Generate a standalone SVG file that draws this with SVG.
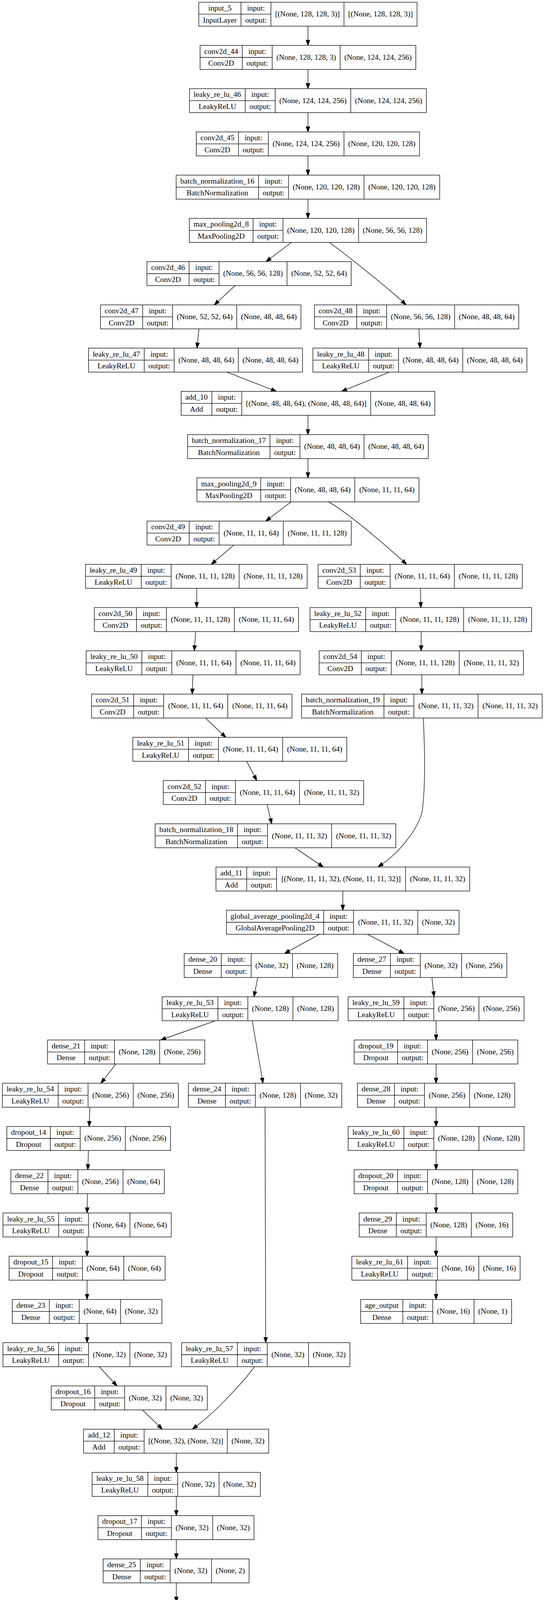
<svg xmlns="http://www.w3.org/2000/svg" width="1393" height="4500" viewBox="0 0 1393 4500">
<style>
.n rect{fill:#fff;stroke:#000;stroke-width:1.33}
.n path{fill:none;stroke:#000;stroke-width:1.33}
.n text{font-family:"Liberation Serif","Times New Roman",serif;font-size:19.5px;text-anchor:middle;fill:#000}
.e path{fill:none;stroke:#000;stroke-width:1.33;marker-end:url(#ah)}
</style>
<defs>
<marker id="ah" viewBox="0 -5 14 10" refX="0" refY="0" markerWidth="14" markerHeight="10" markerUnits="userSpaceOnUse" orient="auto" overflow="visible"><path d="M0,-4.7 L13.3,0 L0,4.7 Z" fill="#000" stroke="#000" stroke-width="1.33"/></marker>
</defs>
<rect width="1393" height="4500" fill="#fff"/>
<g id="edges" class="e">
<path d="M788.5,67 V103"/>
<path d="M788.5,177.7 V213.7"/>
<path d="M788.5,288.4 V324.4"/>
<path d="M788.5,399.1 V435.1"/>
<path d="M788.5,509.8 V545.8"/>
<path d="M746.5,620.5 L691.8,661.8"/>
<path d="M843.3,620.5 C884.1,650.5 986.8,731.35 1030,771.35"/>
<path d="M602,731.2 L558.5,771.5"/>
<path d="M509.4,841.9 L505.8,878"/>
<path d="M1072.7,841.9 L1074.7,877.9"/>
<path d="M581,952.6 L695.5,997.1"/>
<path d="M997,952.6 L887.1,996.9"/>
<path d="M788.5,1063.3 V1099.3"/>
<path d="M788.5,1174 V1210"/>
<path d="M745.4,1284.7 L691.1,1326"/>
<path d="M841.3,1284.7 C890,1312 987.4,1395.8 1031.4,1435.8"/>
<path d="M598.8,1395.4 L551.1,1436.1"/>
<path d="M503.7,1506.1 V1542.1"/>
<path d="M1076.7,1506.1 L1077.4,1542.1"/>
<path d="M501,1616.8 L498.4,1652.8"/>
<path d="M1078.5,1616.8 V1652.8"/>
<path d="M494,1727.5 L492.7,1763.5"/>
<path d="M1080.3,1727.5 V1763.5"/>
<path d="M526,1838.2 L568.7,1878.4"/>
<path d="M631.7,1948.9 L651.3,1986.4"/>
<path d="M684,2059.6 L692.6,2095.9"/>
<path d="M755.2,2170.3 L817,2212.1"/>
<path d="M1083.9,1838.2 C1087,1900 1090,2000 1082,2070 C1077.2,2112 1030,2176 979.1,2211.7"/>
<path d="M877.8,2281 V2317"/>
<path d="M818.2,2391.7 L740.2,2434.6"/>
<path d="M940.8,2391.7 L1023.2,2434.8"/>
<path d="M660,2502.4 L652.9,2538.7"/>
<path d="M1106,2502.4 L1110,2538.5"/>
<path d="M551.7,2613.1 L423.9,2658"/>
<path d="M645.9,2613.1 L671.2,2760"/>
<path d="M1116.7,2613.1 V2649.1"/>
<path d="M296.7,2723.8 L266.6,2762.6"/>
<path d="M1116.7,2723.8 V2759.8"/>
<path d="M230,2834.5 L228.8,2870.5"/>
<path d="M678.7,2834.5 L680.3,3424"/>
<path d="M1116.7,2834.5 V2870.5"/>
<path d="M226.5,2945.2 L225.3,2981.2"/>
<path d="M1116.7,2945.2 V2981.2"/>
<path d="M223.9,3055.9 L223.3,3091.9"/>
<path d="M1116.7,3055.9 V3091.9"/>
<path d="M223,3166.6 V3202.6"/>
<path d="M1116.7,3166.6 V3202.6"/>
<path d="M223,3277.3 V3313.3"/>
<path d="M1116.7,3277.3 V3313.3"/>
<path d="M223,3388 V3424"/>
<path d="M253.8,3498.7 L290.6,3538.3"/>
<path d="M364.8,3609.4 L406.2,3649.5"/>
<path d="M651.8,3498.7 C628,3532 555,3612 503.4,3650.4"/>
<path d="M451.5,3720.1 V3756.1"/>
<path d="M451.5,3830.8 V3866.8"/>
<path d="M451.5,3941.5 V3977.5"/>
<path d="M451.5,4052.2 V4088.2"/>
<path d="M451.5,4162.9 V4198.9"/>
<path d="M451.5,4273.6 V4309.6"/>
<path d="M451.5,4384.3 V4420.3"/>
</g>

<g id="input_5" class="n" transform="translate(509.1,5.6)"><rect width="558.8" height="61.4"/><path d="M108,0V61.4M184.6,0V61.4M371.7,0V61.4M0,30.7H184.6"/><text x="54" y="21.35">input_5</text><text x="54" y="52.05">InputLayer</text><text x="146.3" y="21.35">input:</text><text x="146.3" y="52.05">output:</text><text x="278.15" y="36.7">[(None, 128, 128, 3)]</text><text x="465.25" y="36.7">[(None, 128, 128, 3)]</text></g>

<g id="conv2d_44" class="n" transform="translate(512.4,116.3)"><rect width="552.3" height="61.4"/><path d="M108,0V61.4M184.6,0V61.4M358.7,0V61.4M0,30.7H184.6"/><text x="54" y="21.35">conv2d_44</text><text x="54" y="52.05">Conv2D</text><text x="146.3" y="21.35">input:</text><text x="146.3" y="52.05">output:</text><text x="271.65" y="36.7">(None, 128, 128, 3)</text><text x="455.5" y="36.7">(None, 124, 124, 256)</text></g>

<g id="leaky_re_lu_46" class="n" transform="translate(485.3,227)"><rect width="606.5" height="61.4"/><path d="M142.7,0V61.4M219.3,0V61.4M412.9,0V61.4M0,30.7H219.3"/><text x="71.35" y="21.35">leaky_re_lu_46</text><text x="71.35" y="52.05">LeakyReLU</text><text x="181" y="21.35">input:</text><text x="181" y="52.05">output:</text><text x="316.1" y="36.7">(None, 124, 124, 256)</text><text x="509.7" y="36.7">(None, 124, 124, 256)</text></g>

<g id="conv2d_45" class="n" transform="translate(502.6,337.7)"><rect width="571.8" height="61.4"/><path d="M108,0V61.4M184.6,0V61.4M378.2,0V61.4M0,30.7H184.6"/><text x="54" y="21.35">conv2d_45</text><text x="54" y="52.05">Conv2D</text><text x="146.3" y="21.35">input:</text><text x="146.3" y="52.05">output:</text><text x="281.4" y="36.7">(None, 124, 124, 256)</text><text x="475" y="36.7">(None, 120, 120, 128)</text></g>

<g id="batch_normalization_16" class="n" transform="translate(451.1,448.4)"><rect width="674.8" height="61.4"/><path d="M211,0V61.4M287.6,0V61.4M481.2,0V61.4M0,30.7H287.6"/><text x="105.5" y="21.35">batch_normalization_16</text><text x="105.5" y="52.05">BatchNormalization</text><text x="249.3" y="21.35">input:</text><text x="249.3" y="52.05">output:</text><text x="384.4" y="36.7">(None, 120, 120, 128)</text><text x="578" y="36.7">(None, 120, 120, 128)</text></g>

<g id="max_pooling2d_8" class="n" transform="translate(484.7,559.1)"><rect width="607.6" height="61.4"/><path d="M163.3,0V61.4M239.9,0V61.4M433.5,0V61.4M0,30.7H239.9"/><text x="81.65" y="21.35">max_pooling2d_8</text><text x="81.65" y="52.05">MaxPooling2D</text><text x="201.6" y="21.35">input:</text><text x="201.6" y="52.05">output:</text><text x="336.7" y="36.7">(None, 120, 120, 128)</text><text x="520.55" y="36.7">(None, 56, 56, 128)</text></g>

<g id="conv2d_46" class="n" transform="translate(376.3,669.8)"><rect width="523" height="61.4"/><path d="M108,0V61.4M184.6,0V61.4M358.7,0V61.4M0,30.7H184.6"/><text x="54" y="21.35">conv2d_46</text><text x="54" y="52.05">Conv2D</text><text x="146.3" y="21.35">input:</text><text x="146.3" y="52.05">output:</text><text x="271.65" y="36.7">(None, 56, 56, 128)</text><text x="440.85" y="36.7">(None, 52, 52, 64)</text></g>

<g id="conv2d_47" class="n" transform="translate(257.4,780.5)"><rect width="513.2" height="61.4"/><path d="M108,0V61.4M184.6,0V61.4M348.9,0V61.4M0,30.7H184.6"/><text x="54" y="21.35">conv2d_47</text><text x="54" y="52.05">Conv2D</text><text x="146.3" y="21.35">input:</text><text x="146.3" y="52.05">output:</text><text x="266.75" y="36.7">(None, 52, 52, 64)</text><text x="431.05" y="36.7">(None, 48, 48, 64)</text></g>

<g id="conv2d_48" class="n" transform="translate(805.4,780.5)"><rect width="523" height="61.4"/><path d="M108,0V61.4M184.6,0V61.4M358.7,0V61.4M0,30.7H184.6"/><text x="54" y="21.35">conv2d_48</text><text x="54" y="52.05">Conv2D</text><text x="146.3" y="21.35">input:</text><text x="146.3" y="52.05">output:</text><text x="271.65" y="36.7">(None, 56, 56, 128)</text><text x="440.85" y="36.7">(None, 48, 48, 64)</text></g>

<g id="leaky_re_lu_47" class="n" transform="translate(226.7,891.2)"><rect width="547.9" height="61.4"/><path d="M142.7,0V61.4M219.3,0V61.4M383.6,0V61.4M0,30.7H219.3"/><text x="71.35" y="21.35">leaky_re_lu_47</text><text x="71.35" y="52.05">LeakyReLU</text><text x="181" y="21.35">input:</text><text x="181" y="52.05">output:</text><text x="301.45" y="36.7">(None, 48, 48, 64)</text><text x="465.75" y="36.7">(None, 48, 48, 64)</text></g>

<g id="leaky_re_lu_48" class="n" transform="translate(801.3,891.2)"><rect width="547.9" height="61.4"/><path d="M142.7,0V61.4M219.3,0V61.4M383.6,0V61.4M0,30.7H219.3"/><text x="71.35" y="21.35">leaky_re_lu_48</text><text x="71.35" y="52.05">LeakyReLU</text><text x="181" y="21.35">input:</text><text x="181" y="52.05">output:</text><text x="301.45" y="36.7">(None, 48, 48, 64)</text><text x="465.75" y="36.7">(None, 48, 48, 64)</text></g>

<g id="add_10" class="n" transform="translate(463.8,1001.9)"><rect width="649.7" height="61.4"/><path d="M78.7,0V61.4M155.3,0V61.4M485.4,0V61.4M0,30.7H155.3"/><text x="39.35" y="21.35">add_10</text><text x="39.35" y="52.05">Add</text><text x="117" y="21.35">input:</text><text x="117" y="52.05">output:</text><text x="320.35" y="36.7">[(None, 48, 48, 64), (None, 48, 48, 64)]</text><text x="567.55" y="36.7">(None, 48, 48, 64)</text></g>

<g id="batch_normalization_17" class="n" transform="translate(480.4,1112.6)"><rect width="616.2" height="61.4"/><path d="M211,0V61.4M287.6,0V61.4M451.9,0V61.4M0,30.7H287.6"/><text x="105.5" y="21.35">batch_normalization_17</text><text x="105.5" y="52.05">BatchNormalization</text><text x="249.3" y="21.35">input:</text><text x="249.3" y="52.05">output:</text><text x="369.75" y="36.7">(None, 48, 48, 64)</text><text x="534.05" y="36.7">(None, 48, 48, 64)</text></g>

<g id="max_pooling2d_9" class="n" transform="translate(504.3,1223.3)"><rect width="568.5" height="61.4"/><path d="M163.3,0V61.4M239.9,0V61.4M404.2,0V61.4M0,30.7H239.9"/><text x="81.65" y="21.35">max_pooling2d_9</text><text x="81.65" y="52.05">MaxPooling2D</text><text x="201.6" y="21.35">input:</text><text x="201.6" y="52.05">output:</text><text x="322.05" y="36.7">(None, 48, 48, 64)</text><text x="486.35" y="36.7">(None, 11, 11, 64)</text></g>

<g id="conv2d_49" class="n" transform="translate(376.5,1334)"><rect width="523" height="61.4"/><path d="M108,0V61.4M184.6,0V61.4M348.9,0V61.4M0,30.7H184.6"/><text x="54" y="21.35">conv2d_49</text><text x="54" y="52.05">Conv2D</text><text x="146.3" y="21.35">input:</text><text x="146.3" y="52.05">output:</text><text x="266.75" y="36.7">(None, 11, 11, 64)</text><text x="435.95" y="36.7">(None, 11, 11, 128)</text></g>

<g id="leaky_re_lu_49" class="n" transform="translate(219,1444.7)"><rect width="567.5" height="61.4"/><path d="M142.7,0V61.4M219.3,0V61.4M393.4,0V61.4M0,30.7H219.3"/><text x="71.35" y="21.35">leaky_re_lu_49</text><text x="71.35" y="52.05">LeakyReLU</text><text x="181" y="21.35">input:</text><text x="181" y="52.05">output:</text><text x="306.35" y="36.7">(None, 11, 11, 128)</text><text x="480.45" y="36.7">(None, 11, 11, 128)</text></g>

<g id="conv2d_53" class="n" transform="translate(814.5,1444.7)"><rect width="523" height="61.4"/><path d="M108,0V61.4M184.6,0V61.4M348.9,0V61.4M0,30.7H184.6"/><text x="54" y="21.35">conv2d_53</text><text x="54" y="52.05">Conv2D</text><text x="146.3" y="21.35">input:</text><text x="146.3" y="52.05">output:</text><text x="266.75" y="36.7">(None, 11, 11, 64)</text><text x="435.95" y="36.7">(None, 11, 11, 128)</text></g>

<g id="conv2d_50" class="n" transform="translate(241.5,1555.4)"><rect width="523" height="61.4"/><path d="M108,0V61.4M184.6,0V61.4M358.7,0V61.4M0,30.7H184.6"/><text x="54" y="21.35">conv2d_50</text><text x="54" y="52.05">Conv2D</text><text x="146.3" y="21.35">input:</text><text x="146.3" y="52.05">output:</text><text x="271.65" y="36.7">(None, 11, 11, 128)</text><text x="440.85" y="36.7">(None, 11, 11, 64)</text></g>

<g id="leaky_re_lu_52" class="n" transform="translate(793.8,1555.4)"><rect width="567.5" height="61.4"/><path d="M142.7,0V61.4M219.3,0V61.4M393.4,0V61.4M0,30.7H219.3"/><text x="71.35" y="21.35">leaky_re_lu_52</text><text x="71.35" y="52.05">LeakyReLU</text><text x="181" y="21.35">input:</text><text x="181" y="52.05">output:</text><text x="306.35" y="36.7">(None, 11, 11, 128)</text><text x="480.45" y="36.7">(None, 11, 11, 128)</text></g>

<g id="leaky_re_lu_50" class="n" transform="translate(220.6,1666.1)"><rect width="547.9" height="61.4"/><path d="M142.7,0V61.4M219.3,0V61.4M383.6,0V61.4M0,30.7H219.3"/><text x="71.35" y="21.35">leaky_re_lu_50</text><text x="71.35" y="52.05">LeakyReLU</text><text x="181" y="21.35">input:</text><text x="181" y="52.05">output:</text><text x="301.45" y="36.7">(None, 11, 11, 64)</text><text x="465.75" y="36.7">(None, 11, 11, 64)</text></g>

<g id="conv2d_54" class="n" transform="translate(817.3,1666.1)"><rect width="523" height="61.4"/><path d="M108,0V61.4M184.6,0V61.4M358.7,0V61.4M0,30.7H184.6"/><text x="54" y="21.35">conv2d_54</text><text x="54" y="52.05">Conv2D</text><text x="146.3" y="21.35">input:</text><text x="146.3" y="52.05">output:</text><text x="271.65" y="36.7">(None, 11, 11, 128)</text><text x="440.85" y="36.7">(None, 11, 11, 32)</text></g>

<g id="conv2d_51" class="n" transform="translate(234.4,1776.8)"><rect width="513.2" height="61.4"/><path d="M108,0V61.4M184.6,0V61.4M348.9,0V61.4M0,30.7H184.6"/><text x="54" y="21.35">conv2d_51</text><text x="54" y="52.05">Conv2D</text><text x="146.3" y="21.35">input:</text><text x="146.3" y="52.05">output:</text><text x="266.75" y="36.7">(None, 11, 11, 64)</text><text x="431.05" y="36.7">(None, 11, 11, 64)</text></g>

<g id="batch_normalization_19" class="n" transform="translate(772.2,1776.8)"><rect width="616.2" height="61.4"/><path d="M211,0V61.4M287.6,0V61.4M451.9,0V61.4M0,30.7H287.6"/><text x="105.5" y="21.35">batch_normalization_19</text><text x="105.5" y="52.05">BatchNormalization</text><text x="249.3" y="21.35">input:</text><text x="249.3" y="52.05">output:</text><text x="369.75" y="36.7">(None, 11, 11, 32)</text><text x="534.05" y="36.7">(None, 11, 11, 32)</text></g>

<g id="leaky_re_lu_51" class="n" transform="translate(340.1,1887.5)"><rect width="547.9" height="61.4"/><path d="M142.7,0V61.4M219.3,0V61.4M383.6,0V61.4M0,30.7H219.3"/><text x="71.35" y="21.35">leaky_re_lu_51</text><text x="71.35" y="52.05">LeakyReLU</text><text x="181" y="21.35">input:</text><text x="181" y="52.05">output:</text><text x="301.45" y="36.7">(None, 11, 11, 64)</text><text x="465.75" y="36.7">(None, 11, 11, 64)</text></g>

<g id="conv2d_52" class="n" transform="translate(418.1,1998.2)"><rect width="513.2" height="61.4"/><path d="M108,0V61.4M184.6,0V61.4M348.9,0V61.4M0,30.7H184.6"/><text x="54" y="21.35">conv2d_52</text><text x="54" y="52.05">Conv2D</text><text x="146.3" y="21.35">input:</text><text x="146.3" y="52.05">output:</text><text x="266.75" y="36.7">(None, 11, 11, 64)</text><text x="431.05" y="36.7">(None, 11, 11, 32)</text></g>

<g id="batch_normalization_18" class="n" transform="translate(397.3,2108.9)"><rect width="616.2" height="61.4"/><path d="M211,0V61.4M287.6,0V61.4M451.9,0V61.4M0,30.7H287.6"/><text x="105.5" y="21.35">batch_normalization_18</text><text x="105.5" y="52.05">BatchNormalization</text><text x="249.3" y="21.35">input:</text><text x="249.3" y="52.05">output:</text><text x="369.75" y="36.7">(None, 11, 11, 32)</text><text x="534.05" y="36.7">(None, 11, 11, 32)</text></g>

<g id="add_11" class="n" transform="translate(553,2219.6)"><rect width="649.7" height="61.4"/><path d="M78.7,0V61.4M155.3,0V61.4M485.4,0V61.4M0,30.7H155.3"/><text x="39.35" y="21.35">add_11</text><text x="39.35" y="52.05">Add</text><text x="117" y="21.35">input:</text><text x="117" y="52.05">output:</text><text x="320.35" y="36.7">[(None, 11, 11, 32), (None, 11, 11, 32)]</text><text x="567.55" y="36.7">(None, 11, 11, 32)</text></g>

<g id="global_average_pooling2d_4" class="n" transform="translate(579.9,2330.3)"><rect width="595.6" height="61.4"/><path d="M248.9,0V61.4M325.5,0V61.4M489.8,0V61.4M0,30.7H325.5"/><text x="124.45" y="21.35">global_average_pooling2d_4</text><text x="124.45" y="52.05">GlobalAveragePooling2D</text><text x="287.2" y="21.35">input:</text><text x="287.2" y="52.05">output:</text><text x="407.65" y="36.7">(None, 11, 11, 32)</text><text x="542.7" y="36.7">(None, 32)</text></g>

<g id="dense_20" class="n" transform="translate(471.6,2441)"><rect width="393" height="61.4"/><path d="M95,0V61.4M171.6,0V61.4M277.4,0V61.4M0,30.7H171.6"/><text x="47.5" y="21.35">dense_20</text><text x="47.5" y="52.05">Dense</text><text x="133.3" y="21.35">input:</text><text x="133.3" y="52.05">output:</text><text x="224.5" y="36.7">(None, 32)</text><text x="335.2" y="36.7">(None, 128)</text></g>

<g id="dense_27" class="n" transform="translate(904.7,2441)"><rect width="393" height="61.4"/><path d="M95,0V61.4M171.6,0V61.4M277.4,0V61.4M0,30.7H171.6"/><text x="47.5" y="21.35">dense_27</text><text x="47.5" y="52.05">Dense</text><text x="133.3" y="21.35">input:</text><text x="133.3" y="52.05">output:</text><text x="224.5" y="36.7">(None, 32)</text><text x="335.2" y="36.7">(None, 256)</text></g>

<g id="leaky_re_lu_53" class="n" transform="translate(415.3,2551.7)"><rect width="450.5" height="61.4"/><path d="M142.7,0V61.4M219.3,0V61.4M334.9,0V61.4M0,30.7H219.3"/><text x="71.35" y="21.35">leaky_re_lu_53</text><text x="71.35" y="52.05">LeakyReLU</text><text x="181" y="21.35">input:</text><text x="181" y="52.05">output:</text><text x="277.1" y="36.7">(None, 128)</text><text x="392.7" y="36.7">(None, 128)</text></g>

<g id="leaky_re_lu_59" class="n" transform="translate(891.5,2551.7)"><rect width="450.5" height="61.4"/><path d="M142.7,0V61.4M219.3,0V61.4M334.9,0V61.4M0,30.7H219.3"/><text x="71.35" y="21.35">leaky_re_lu_59</text><text x="71.35" y="52.05">LeakyReLU</text><text x="181" y="21.35">input:</text><text x="181" y="52.05">output:</text><text x="277.1" y="36.7">(None, 256)</text><text x="392.7" y="36.7">(None, 256)</text></g>

<g id="dense_21" class="n" transform="translate(121.6,2662.4)"><rect width="402.8" height="61.4"/><path d="M95,0V61.4M171.6,0V61.4M287.2,0V61.4M0,30.7H171.6"/><text x="47.5" y="21.35">dense_21</text><text x="47.5" y="52.05">Dense</text><text x="133.3" y="21.35">input:</text><text x="133.3" y="52.05">output:</text><text x="229.4" y="36.7">(None, 128)</text><text x="345" y="36.7">(None, 256)</text></g>

<g id="dropout_19" class="n" transform="translate(906.8,2662.4)"><rect width="419.1" height="61.4"/><path d="M111.3,0V61.4M187.9,0V61.4M303.5,0V61.4M0,30.7H187.9"/><text x="55.65" y="21.35">dropout_19</text><text x="55.65" y="52.05">Dropout</text><text x="149.6" y="21.35">input:</text><text x="149.6" y="52.05">output:</text><text x="245.7" y="36.7">(None, 256)</text><text x="361.3" y="36.7">(None, 256)</text></g>

<g id="leaky_re_lu_54" class="n" transform="translate(6.2,2773.1)"><rect width="450.5" height="61.4"/><path d="M142.7,0V61.4M219.3,0V61.4M334.9,0V61.4M0,30.7H219.3"/><text x="71.35" y="21.35">leaky_re_lu_54</text><text x="71.35" y="52.05">LeakyReLU</text><text x="181" y="21.35">input:</text><text x="181" y="52.05">output:</text><text x="277.1" y="36.7">(None, 256)</text><text x="392.7" y="36.7">(None, 256)</text></g>

<g id="dense_24" class="n" transform="translate(482.3,2773.1)"><rect width="393" height="61.4"/><path d="M95,0V61.4M171.6,0V61.4M287.2,0V61.4M0,30.7H171.6"/><text x="47.5" y="21.35">dense_24</text><text x="47.5" y="52.05">Dense</text><text x="133.3" y="21.35">input:</text><text x="133.3" y="52.05">output:</text><text x="229.4" y="36.7">(None, 128)</text><text x="340.1" y="36.7">(None, 32)</text></g>

<g id="dense_28" class="n" transform="translate(915.3,2773.1)"><rect width="402.8" height="61.4"/><path d="M95,0V61.4M171.6,0V61.4M287.2,0V61.4M0,30.7H171.6"/><text x="47.5" y="21.35">dense_28</text><text x="47.5" y="52.05">Dense</text><text x="133.3" y="21.35">input:</text><text x="133.3" y="52.05">output:</text><text x="229.4" y="36.7">(None, 256)</text><text x="345" y="36.7">(None, 128)</text></g>

<g id="dropout_14" class="n" transform="translate(17.5,2883.8)"><rect width="419.1" height="61.4"/><path d="M111.3,0V61.4M187.9,0V61.4M303.5,0V61.4M0,30.7H187.9"/><text x="55.65" y="21.35">dropout_14</text><text x="55.65" y="52.05">Dropout</text><text x="149.6" y="21.35">input:</text><text x="149.6" y="52.05">output:</text><text x="245.7" y="36.7">(None, 256)</text><text x="361.3" y="36.7">(None, 256)</text></g>

<g id="leaky_re_lu_60" class="n" transform="translate(891.5,2883.8)"><rect width="450.5" height="61.4"/><path d="M142.7,0V61.4M219.3,0V61.4M334.9,0V61.4M0,30.7H219.3"/><text x="71.35" y="21.35">leaky_re_lu_60</text><text x="71.35" y="52.05">LeakyReLU</text><text x="181" y="21.35">input:</text><text x="181" y="52.05">output:</text><text x="277.1" y="36.7">(None, 128)</text><text x="392.7" y="36.7">(None, 128)</text></g>

<g id="dense_22" class="n" transform="translate(27.8,2994.5)"><rect width="393" height="61.4"/><path d="M95,0V61.4M171.6,0V61.4M287.2,0V61.4M0,30.7H171.6"/><text x="47.5" y="21.35">dense_22</text><text x="47.5" y="52.05">Dense</text><text x="133.3" y="21.35">input:</text><text x="133.3" y="52.05">output:</text><text x="229.4" y="36.7">(None, 256)</text><text x="340.1" y="36.7">(None, 64)</text></g>

<g id="dropout_20" class="n" transform="translate(906.8,2994.5)"><rect width="419.1" height="61.4"/><path d="M111.3,0V61.4M187.9,0V61.4M303.5,0V61.4M0,30.7H187.9"/><text x="55.65" y="21.35">dropout_20</text><text x="55.65" y="52.05">Dropout</text><text x="149.6" y="21.35">input:</text><text x="149.6" y="52.05">output:</text><text x="245.7" y="36.7">(None, 128)</text><text x="361.3" y="36.7">(None, 128)</text></g>

<g id="leaky_re_lu_55" class="n" transform="translate(7.6,3105.2)"><rect width="430.9" height="61.4"/><path d="M142.7,0V61.4M219.3,0V61.4M325.1,0V61.4M0,30.7H219.3"/><text x="71.35" y="21.35">leaky_re_lu_55</text><text x="71.35" y="52.05">LeakyReLU</text><text x="181" y="21.35">input:</text><text x="181" y="52.05">output:</text><text x="272.2" y="36.7">(None, 64)</text><text x="378" y="36.7">(None, 64)</text></g>

<g id="dense_29" class="n" transform="translate(919.8,3105.2)"><rect width="393" height="61.4"/><path d="M95,0V61.4M171.6,0V61.4M287.2,0V61.4M0,30.7H171.6"/><text x="47.5" y="21.35">dense_29</text><text x="47.5" y="52.05">Dense</text><text x="133.3" y="21.35">input:</text><text x="133.3" y="52.05">output:</text><text x="229.4" y="36.7">(None, 128)</text><text x="340.1" y="36.7">(None, 16)</text></g>

<g id="dropout_15" class="n" transform="translate(23.3,3215.9)"><rect width="399.5" height="61.4"/><path d="M111.3,0V61.4M187.9,0V61.4M293.7,0V61.4M0,30.7H187.9"/><text x="55.65" y="21.35">dropout_15</text><text x="55.65" y="52.05">Dropout</text><text x="149.6" y="21.35">input:</text><text x="149.6" y="52.05">output:</text><text x="240.8" y="36.7">(None, 64)</text><text x="346.6" y="36.7">(None, 64)</text></g>

<g id="leaky_re_lu_61" class="n" transform="translate(900.9,3215.9)"><rect width="430.9" height="61.4"/><path d="M142.7,0V61.4M219.3,0V61.4M325.1,0V61.4M0,30.7H219.3"/><text x="71.35" y="21.35">leaky_re_lu_61</text><text x="71.35" y="52.05">LeakyReLU</text><text x="181" y="21.35">input:</text><text x="181" y="52.05">output:</text><text x="272.2" y="36.7">(None, 16)</text><text x="378" y="36.7">(None, 16)</text></g>

<g id="dense_23" class="n" transform="translate(31.4,3326.6)"><rect width="383.2" height="61.4"/><path d="M95,0V61.4M171.6,0V61.4M277.4,0V61.4M0,30.7H171.6"/><text x="47.5" y="21.35">dense_23</text><text x="47.5" y="52.05">Dense</text><text x="133.3" y="21.35">input:</text><text x="133.3" y="52.05">output:</text><text x="224.5" y="36.7">(None, 64)</text><text x="330.3" y="36.7">(None, 32)</text></g>

<g id="age_output" class="n" transform="translate(923.5,3326.6)"><rect width="386.5" height="61.4"/><path d="M108,0V61.4M184.6,0V61.4M290.4,0V61.4M0,30.7H184.6"/><text x="54" y="21.35">age_output</text><text x="54" y="52.05">Dense</text><text x="146.3" y="21.35">input:</text><text x="146.3" y="52.05">output:</text><text x="237.5" y="36.7">(None, 16)</text><text x="338.45" y="36.7">(None, 1)</text></g>

<g id="leaky_re_lu_56" class="n" transform="translate(7.5,3437.3)"><rect width="430.9" height="61.4"/><path d="M142.7,0V61.4M219.3,0V61.4M325.1,0V61.4M0,30.7H219.3"/><text x="71.35" y="21.35">leaky_re_lu_56</text><text x="71.35" y="52.05">LeakyReLU</text><text x="181" y="21.35">input:</text><text x="181" y="52.05">output:</text><text x="272.2" y="36.7">(None, 32)</text><text x="378" y="36.7">(None, 32)</text></g>

<g id="leaky_re_lu_57" class="n" transform="translate(465.1,3437.3)"><rect width="430.9" height="61.4"/><path d="M142.7,0V61.4M219.3,0V61.4M325.1,0V61.4M0,30.7H219.3"/><text x="71.35" y="21.35">leaky_re_lu_57</text><text x="71.35" y="52.05">LeakyReLU</text><text x="181" y="21.35">input:</text><text x="181" y="52.05">output:</text><text x="272.2" y="36.7">(None, 32)</text><text x="378" y="36.7">(None, 32)</text></g>

<g id="dropout_16" class="n" transform="translate(131.3,3548)"><rect width="399.5" height="61.4"/><path d="M111.3,0V61.4M187.9,0V61.4M293.7,0V61.4M0,30.7H187.9"/><text x="55.65" y="21.35">dropout_16</text><text x="55.65" y="52.05">Dropout</text><text x="149.6" y="21.35">input:</text><text x="149.6" y="52.05">output:</text><text x="240.8" y="36.7">(None, 32)</text><text x="346.6" y="36.7">(None, 32)</text></g>

<g id="add_12" class="n" transform="translate(213.8,3658.7)"><rect width="474.2" height="61.4"/><path d="M78.7,0V61.4M155.3,0V61.4M368.4,0V61.4M0,30.7H155.3"/><text x="39.35" y="21.35">add_12</text><text x="39.35" y="52.05">Add</text><text x="117" y="21.35">input:</text><text x="117" y="52.05">output:</text><text x="261.85" y="36.7">[(None, 32), (None, 32)]</text><text x="421.3" y="36.7">(None, 32)</text></g>

<g id="leaky_re_lu_58" class="n" transform="translate(235.8,3769.4)"><rect width="430.9" height="61.4"/><path d="M142.7,0V61.4M219.3,0V61.4M325.1,0V61.4M0,30.7H219.3"/><text x="71.35" y="21.35">leaky_re_lu_58</text><text x="71.35" y="52.05">LeakyReLU</text><text x="181" y="21.35">input:</text><text x="181" y="52.05">output:</text><text x="272.2" y="36.7">(None, 32)</text><text x="378" y="36.7">(None, 32)</text></g>

<g id="dropout_17" class="n" transform="translate(250.9,3880.1)"><rect width="399.5" height="61.4"/><path d="M111.3,0V61.4M187.9,0V61.4M293.7,0V61.4M0,30.7H187.9"/><text x="55.65" y="21.35">dropout_17</text><text x="55.65" y="52.05">Dropout</text><text x="149.6" y="21.35">input:</text><text x="149.6" y="52.05">output:</text><text x="240.8" y="36.7">(None, 32)</text><text x="346.6" y="36.7">(None, 32)</text></g>

<g id="dense_25" class="n" transform="translate(264.2,3990.8)"><rect width="373.5" height="61.4"/><path d="M95,0V61.4M171.6,0V61.4M277.4,0V61.4M0,30.7H171.6"/><text x="47.5" y="21.35">dense_25</text><text x="47.5" y="52.05">Dense</text><text x="133.3" y="21.35">input:</text><text x="133.3" y="52.05">output:</text><text x="224.5" y="36.7">(None, 32)</text><text x="325.45" y="36.7">(None, 2)</text></g>

<g id="re_lu_2" class="n" transform="translate(276.1,4101.5)"><rect width="349.7" height="61.4"/><path d="M80.9,0V61.4M157.5,0V61.4M253.6,0V61.4M0,30.7H157.5"/><text x="40.45" y="21.35">re_lu_2</text><text x="40.45" y="52.05">ReLU</text><text x="119.2" y="21.35">input:</text><text x="119.2" y="52.05">output:</text><text x="205.55" y="36.7">(None, 2)</text><text x="301.65" y="36.7">(None, 2)</text></g>

<g id="dropout_18" class="n" transform="translate(260.9,4212.2)"><rect width="380.1" height="61.4"/><path d="M111.3,0V61.4M187.9,0V61.4M284,0V61.4M0,30.7H187.9"/><text x="55.65" y="21.35">dropout_18</text><text x="55.65" y="52.05">Dropout</text><text x="149.6" y="21.35">input:</text><text x="149.6" y="52.05">output:</text><text x="235.95" y="36.7">(None, 2)</text><text x="332.05" y="36.7">(None, 2)</text></g>

<g id="dense_26" class="n" transform="translate(269,4322.9)"><rect width="363.8" height="61.4"/><path d="M95,0V61.4M171.6,0V61.4M267.7,0V61.4M0,30.7H171.6"/><text x="47.5" y="21.35">dense_26</text><text x="47.5" y="52.05">Dense</text><text x="133.3" y="21.35">input:</text><text x="133.3" y="52.05">output:</text><text x="219.65" y="36.7">(None, 2)</text><text x="315.75" y="36.7">(None, 1)</text></g>

<g id="gender_output" class="n" transform="translate(249.2,4433.6)"><rect width="402.8" height="61.4"/><path d="M134,0V61.4M210.6,0V61.4M306.7,0V61.4M0,30.7H210.6"/><text x="67" y="21.35">gender_output</text><text x="67" y="52.05">Activation</text><text x="172.3" y="21.35">input:</text><text x="172.3" y="52.05">output:</text><text x="258.65" y="36.7">(None, 1)</text><text x="354.75" y="36.7">(None, 1)</text></g>
</svg>
